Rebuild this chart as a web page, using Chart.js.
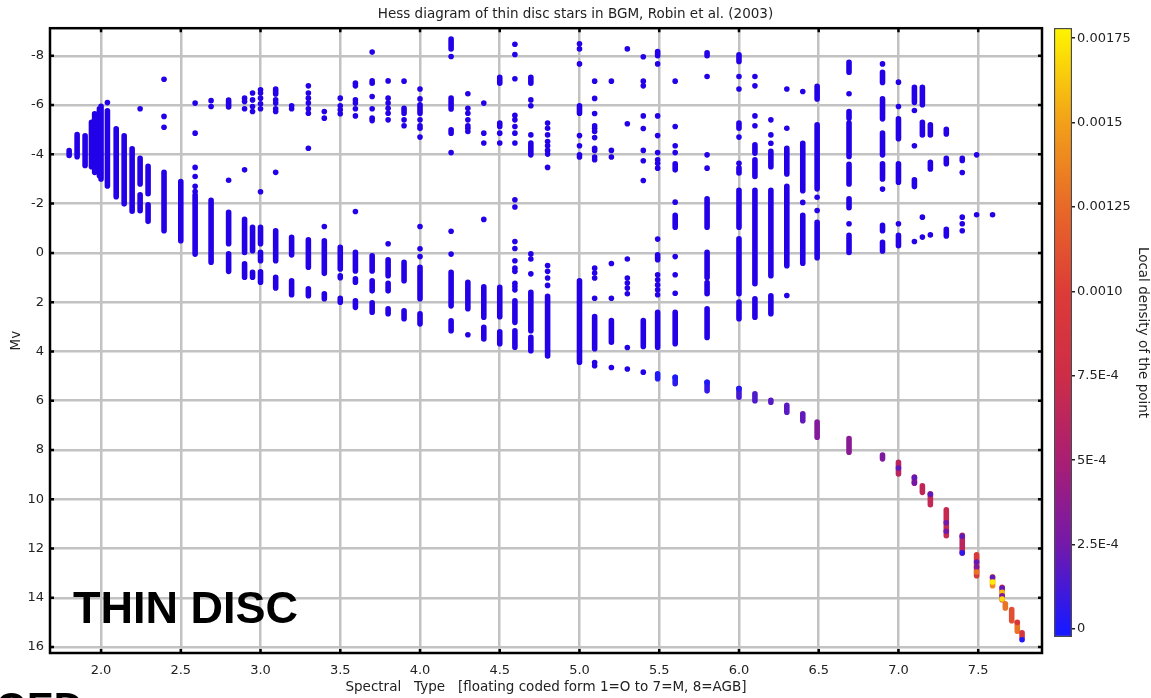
<!DOCTYPE html>
<html>
<head>
<meta charset="utf-8">
<script src="https://cdn.jsdelivr.net/npm/chart.js@4.4.1/dist/chart.umd.min.js"></script>
<style>
  html, body { margin: 0; padding: 0; background: #fff; overflow: hidden; }
  #wrap { position: relative; width: 1151px; height: 698px; }
  #hess { position: absolute; left: 0; top: 0; }
  #bar { position: absolute; left: 1044px; top: 0; }
</style>
</head>
<body>
<div id="wrap">
  <canvas id="hess" width="1151" height="698"></canvas>
  <canvas id="bar" width="107" height="698"></canvas>
</div>
<script>
// axis ticks
const xTicks = [2.0, 2.5, 3.0, 3.5, 4.0, 4.5, 5.0, 5.5, 6.0, 6.5, 7.0, 7.5];
const yTicks = [-8, -6, -4, -2, 0, 2, 4, 6, 8, 10, 12, 14, 16];
const densityTicks = [0, 0.00025, 0.0005, 0.00075, 0.001, 0.00125, 0.0015, 0.00175];
const densityLabels = ["0", "2.5E-4", "5E-4", "7.5E-4", "0.0010", "0.00125", "0.0015", "0.00175"];
const densityMin = -0.0000237;
const densityMax = 0.00178;

// dense vertical runs of stars: [spectral type, Mv top, Mv bottom] (density ~0, blue)
const blueStrips = [
  [1.80,-4.15,-3.95], [1.85,-4.8,-3.9], [1.90,-4.75,-3.55], [1.94,-5.3,-3.5],
  [1.96,-5.65,-3.27], [1.99,-5.85,-3.13], [2.00,-5.95,-3.0], [2.04,-5.77,-2.72],
  [2.095,-5.04,-2.28], [2.145,-4.75,-1.99], [2.195,-4.22,-1.69],
  [2.245,-3.84,-2.8], [2.245,-2.36,-1.71], [2.295,-3.51,-2.4], [2.295,-1.95,-1.28],
  [2.395,-3.27,-0.9], [2.5,-2.9,-0.49], [2.59,-2.35,0.05], [2.69,-2.13,0.38],
  [2.8,-6.2,-5.92], [2.8,-1.65,-0.37], [2.8,0.04,0.75],
  [2.9,-1.36,-0.02], [2.9,0.44,0.99], [2.95,-1.04,-0.09], [2.95,0.79,0.99],
  [3.0,-1.04,-0.37], [3.0,-0.02,0.32], [3.0,0.77,1.19],
  [3.095,-6.65,-6.45], [3.095,-0.9,0.32], [3.095,0.99,1.42],
  [3.195,-0.63,0.08], [3.195,1.13,1.7], [3.3,-0.53,0.58], [3.3,1.46,1.74],
  [3.4,-0.49,0.83], [3.4,1.66,1.86],
  [3.5,-0.23,0.65], [3.5,0.93,1.01], [3.5,1.84,2.0],
  [3.595,-0.02,0.73], [3.595,1.05,1.19], [3.595,1.94,2.21],
  [3.7,0.12,0.73], [3.7,1.13,1.54], [3.7,2.03,2.41],
  [3.8,0.28,0.93], [3.8,1.23,1.54], [3.8,2.27,2.47],
  [3.9,-5.87,-5.67], [3.9,0.38,1.13], [3.9,2.35,2.67],
  [4.0,-6.01,-5.67], [4.0,0.58,1.86], [4.0,2.47,2.88],
  [4.195,-8.68,-8.28], [4.195,-6.28,-5.84], [4.195,-5.0,-4.86], [4.195,0.79,2.15], [4.195,2.76,3.16],
  [4.3,1.19,2.27], [4.4,1.38,2.61], [4.4,3.02,3.49],
  [4.5,-7.13,-6.89], [4.5,-5.27,-5.13], [4.5,1.4,2.59], [4.5,3.2,3.69],
  [4.595,1.94,2.82], [4.595,3.16,3.83],
  [4.695,-7.13,-6.89], [4.695,-4.46,-3.98], [4.695,1.6,3.16], [4.695,3.43,3.97],
  [4.8,1.76,4.18], [5.0,-5.97,-5.67], [5.0,1.13,4.44],
  [5.095,2.58,3.89], [5.2,2.75,3.63], [5.4,2.75,3.8],
  [5.49,-8.17,-8.0], [5.49,0.08,0.28], [5.49,2.41,3.83],
  [5.6,-3.62,-3.37], [5.6,-1.53,-1.04], [5.6,2.41,3.69],
  [5.8,-8.12,-8.0], [5.8,-2.2,-1.04], [5.8,-0.02,1.0], [5.8,1.2,1.66], [5.8,2.27,3.43],
  [6.0,-8.04,-7.77], [6.0,-5.27,-5.06], [6.0,-3.45,-3.24], [6.0,-2.54,-1.04], [6.0,-0.57,1.66], [6.0,2.0,2.67],
  [6.1,-4.39,-4.05], [6.1,-3.78,-3.1], [6.1,-2.54,1.25], [6.1,1.86,2.61],
  [6.2,-4.12,-3.5], [6.2,-2.54,0.93], [6.2,1.74,2.47],
  [6.3,-4.25,-3.2], [6.3,-2.7,0.52],
  [6.4,-4.45,-2.52], [6.4,-1.53,0.42],
  [6.49,-6.76,-6.25], [6.49,-5.2,-2.6], [6.49,-1.24,0.2],
  [6.69,-7.74,-7.33], [6.69,-5.74,-5.47], [6.69,-5.27,-3.91], [6.69,-3.6,-2.8], [6.69,-2.2,-1.83], [6.69,-0.71,-0.02],
  [6.9,-7.33,-6.92], [6.9,-6.25,-5.44], [6.9,-4.86,-3.98], [6.9,-3.62,-3.0], [6.9,-1.12,-0.9], [6.9,-0.43,-0.08],
  [7.0,-5.44,-4.63], [7.0,-3.62,-2.87], [7.0,-0.71,-0.29],
  [7.1,-6.72,-6.11], [7.1,-2.97,-2.69],
  [7.15,-6.72,-6.01], [7.15,-5.3,-4.79],
  [7.2,-5.2,-4.79], [7.2,-3.68,-3.41],
  [7.3,-5.02,-4.83], [7.3,-3.84,-3.62], [7.3,-0.96,-0.69],
  [7.4,-3.84,-3.75]
];

// isolated stars: [spectral type, Mv]
const blueDots = [
  [2.04,-6.1], [2.245,-5.85], [2.395,-7.05], [2.395,-5.54], [2.395,-5.1],
  [2.59,-6.08], [2.59,-4.86], [2.59,-3.47], [2.59,-3.1], [2.59,-2.7], [2.59,-2.49],
  [2.69,-6.18], [2.69,-5.94], [2.8,-2.95],
  [2.9,-6.28], [2.9,-6.14], [2.9,-5.85], [2.9,-3.37],
  [2.95,-6.49], [2.95,-6.21], [2.95,-5.94], [2.95,-5.74],
  [3.0,-6.62], [3.0,-6.49], [3.0,-6.28], [3.0,-6.05], [3.0,-5.85], [3.0,-2.48],
  [3.095,-6.21], [3.095,-6.08], [3.095,-5.85], [3.095,-5.74], [3.095,-3.27],
  [3.195,-5.97], [3.195,-5.85],
  [3.3,-6.78], [3.3,-6.49], [3.3,-6.28], [3.3,-6.08], [3.3,-5.85], [3.3,-5.67], [3.3,-4.25],
  [3.4,-5.74], [3.4,-5.47], [3.4,-1.07],
  [3.5,-6.28], [3.5,-5.97], [3.5,-5.81], [3.5,-5.65],
  [3.595,-6.89], [3.595,-6.78], [3.595,-6.21], [3.595,-6.08], [3.595,-5.85], [3.595,-5.56], [3.595,-1.68],
  [3.7,-8.15], [3.7,-6.98], [3.7,-6.89], [3.7,-6.35], [3.7,-5.85], [3.7,-5.47], [3.7,-5.37],
  [3.8,-6.98], [3.8,-6.28], [3.8,-6.08], [3.8,-5.87], [3.8,-5.67], [3.8,-5.4], [3.8,-0.37],
  [3.9,-6.97], [3.9,-5.4], [3.9,-5.16],
  [4.0,-6.65], [4.0,-6.25], [4.0,-5.4], [4.0,-5.16], [4.0,-5.06], [4.0,-4.7], [4.0,-1.07], [4.0,-0.17], [4.0,0.15],
  [4.195,-7.97], [4.195,-4.07], [4.195,-0.88], [4.195,0.05],
  [4.3,-6.46], [4.3,-5.87], [4.3,-5.67], [4.3,-5.4], [4.3,-5.16], [4.3,-5.06], [4.3,-4.93], [4.3,3.32],
  [4.4,-6.08], [4.4,-4.86], [4.4,-4.46], [4.4,-1.36],
  [4.5,-4.86], [4.5,-4.46],
  [4.595,-8.47], [4.595,-8.05], [4.595,-7.07], [4.595,-5.58], [4.595,-5.4], [4.595,-5.13], [4.595,-4.86],
  [4.595,-4.46], [4.595,-2.16], [4.595,-1.86], [4.595,-0.46], [4.595,-0.18], [4.595,0.32], [4.595,0.62],
  [4.595,0.75], [4.595,1.23], [4.595,1.36], [4.595,1.5],
  [4.695,-6.21], [4.695,-5.97], [4.695,-4.79], [4.695,0.04], [4.695,0.25], [4.695,0.85],
  [4.8,-5.27], [4.8,-5.06], [4.8,-4.79], [4.8,-4.52], [4.8,-4.35], [4.8,-4.16], [4.8,-4.01], [4.8,-3.47],
  [4.8,0.51], [4.8,0.75], [4.8,1.02], [4.8,1.32],
  [5.0,-8.49], [5.0,-8.28], [5.0,-7.67], [5.0,-4.76], [5.0,-4.35], [5.0,-3.98], [5.0,-3.89],
  [5.095,-6.97], [5.095,-6.27], [5.095,-5.66], [5.095,-5.16], [5.095,-5.06], [5.095,-4.93], [5.095,-4.68],
  [5.095,-4.25], [5.095,-4.16], [5.095,-3.89], [5.095,-3.78], [5.095,0.62], [5.095,0.82], [5.095,1.02],
  [5.095,1.84], [5.095,4.45], [5.095,4.58],
  [5.2,-6.97], [5.2,-4.16], [5.2,-3.89], [5.2,0.43], [5.2,1.84], [5.2,4.65],
  [5.3,-8.28], [5.3,-5.24], [5.3,0.25], [5.3,1.02], [5.3,1.22], [5.3,1.43], [5.3,1.66], [5.3,3.84], [5.3,4.71],
  [5.4,-7.96], [5.4,-6.97], [5.4,-6.78], [5.4,-5.56], [5.4,-5.05], [5.4,-4.16], [5.4,-3.74], [5.4,-2.94], [5.4,4.84],
  [5.49,-7.67], [5.49,-5.56], [5.49,-4.76], [5.49,-4.07], [5.49,-3.78], [5.49,-3.64], [5.49,-3.44],
  [5.49,-0.56], [5.49,0.89], [5.49,1.09], [5.49,1.3], [5.49,1.5], [5.49,1.7],
  [5.6,-6.97], [5.6,-5.13], [5.6,-4.35], [5.6,-4.07], [5.6,-2.06], [5.6,0.15], [5.6,0.89], [5.6,1.64],
  [5.8,-7.16], [5.8,-3.98], [5.8,-3.44],
  [6.0,-7.16], [6.0,-6.65], [6.0,-4.7], [6.0,-3.64],
  [6.1,-7.16], [6.1,-6.78], [6.1,-5.56], [6.1,-5.16],
  [6.2,-5.4], [6.2,-4.79], [6.2,-4.45],
  [6.3,-6.65], [6.3,-5.06], [6.3,1.73],
  [6.4,-6.55], [6.4,-2.05], [6.49,-2.26], [6.49,-1.72],
  [6.69,-6.46], [6.69,-1.18], [6.9,-7.67], [6.9,-2.59],
  [7.0,-6.93], [7.0,-5.94], [7.0,-1.18],
  [7.1,-5.78], [7.1,-4.35], [7.1,-0.46], [7.15,-1.45], [7.15,-0.64], [7.2,-0.73],
  [7.4,-3.26], [7.4,-1.45], [7.4,-1.18], [7.4,-0.9],
  [7.49,-3.98], [7.49,-1.55], [7.59,-1.55]
];

// lower main sequence: [spectral type, Mv top, Mv bottom, local density]
const dwarfStrips = [
  [5.49,4.91,5.11,0.00002], [5.6,5.05,5.31,0.00005], [5.8,5.25,5.6,0.00008],
  [6.0,5.51,5.86,0.00013], [6.1,5.72,6.0,0.00015], [6.2,5.98,6.06,0.00017],
  [6.3,6.19,6.47,0.00018], [6.4,6.53,6.81,0.0002], [6.49,6.87,7.48,0.00032],
  [6.69,7.54,8.09,0.00035], [6.9,8.21,8.36,0.0003], [7.0,8.5,8.97,0.00062],
  [7.1,9.1,9.35,0.0005], [7.15,9.45,9.72,0.00065], [7.2,9.78,10.22,0.00068],
  [7.3,10.43,11.48,0.0007], [7.4,11.46,12.19,0.00062], [7.49,12.25,13.1,0.00095],
  [7.59,13.15,13.51,0.0014], [7.65,13.57,14.08,0.0009], [7.67,14.24,14.41,0.0013],
  [7.71,14.48,14.93,0.0011], [7.745,14.99,15.36,0.0013], [7.775,15.42,15.62,0.0009]
];

// single lower main sequence stars: [spectral type, Mv, local density]
const dwarfDots = [
  [5.6,5.05,0.00001], [5.8,5.25,0.00002], [6.0,5.51,0.00003], [7.0,8.73,0.0002],
  [7.1,9.12,0.0002], [7.1,9.33,0.00025], [7.2,9.8,0.0002],
  [7.3,10.95,0.00025], [7.3,11.3,0.00025], [7.4,11.5,0.0002], [7.4,12.17,0.00005],
  [7.49,12.55,0.0002], [7.49,12.75,0.0003], [7.49,12.95,0.0013],
  [7.59,13.17,0.0002], [7.59,13.36,0.00175],
  [7.65,13.6,0.0002], [7.65,13.78,0.0016], [7.65,13.92,0.0003], [7.65,14.05,0.0017],
  [7.745,15.0,0.0009], [7.775,15.7,0.00002]
];

// colour scale of the density bar
const colorStops = [0, 0.00025, 0.0005, 0.00075, 0.001, 0.00125, 0.0015, 0.00178];
const colorRGB = [[25,25,255],[115,25,170],[170,30,115],[205,45,70],[220,60,55],[232,105,40],[242,160,25],[255,245,0]];

const FONT = "'DejaVu Sans', sans-serif";
const BLUE = "rgb(34,0,232)";
const GRID = "rgb(194,194,194)";

function densityColor(d) {
  if (d <= colorStops[0]) return "rgb(" + colorRGB[0].join(",") + ")";
  for (let i = 1; i < colorStops.length; i++) {
    if (d <= colorStops[i]) {
      const t = (d - colorStops[i - 1]) / (colorStops[i] - colorStops[i - 1]);
      const a = colorRGB[i - 1], b = colorRGB[i];
      return "rgb(" + a.map((v, k) => Math.round(v + (b[k] - v) * t)).join(",") + ")";
    }
  }
  return "rgb(" + colorRGB[colorRGB.length - 1].join(",") + ")";
}

// each strip becomes two points followed by a gap
function stripPoints(list) {
  const pts = [];
  list.forEach((s) => {
    pts.push({ x: s[0], y: s[1], d: s[3] });
    pts.push({ x: s[0], y: s[2], d: s[3] });
    pts.push({ x: s[0], y: null });
  });
  return pts;
}

const dwarfPts = stripPoints(dwarfStrips);

const framePlugin = {
  id: "frame",
  afterDraw(chart) {
    const { ctx, chartArea: a, scales } = chart;
    ctx.save();
    ctx.strokeStyle = "#000";
    ctx.lineWidth = 2.5;
    ctx.strokeRect(a.left, a.top, a.right - a.left, a.bottom - a.top);
    ctx.beginPath();
    scales.x.ticks.forEach((t) => {
      const px = scales.x.getPixelForValue(t.value);
      ctx.moveTo(px, a.top); ctx.lineTo(px, a.top + 4);
      ctx.moveTo(px, a.bottom); ctx.lineTo(px, a.bottom - 4);
    });
    scales.y.ticks.forEach((t) => {
      const py = scales.y.getPixelForValue(t.value);
      ctx.moveTo(a.left, py); ctx.lineTo(a.left + 4, py);
      ctx.moveTo(a.right, py); ctx.lineTo(a.right - 4, py);
    });
    ctx.stroke();
    ctx.fillStyle = "#000";
    ctx.textBaseline = "alphabetic";
    ctx.font = "bold 45px 'Liberation Sans', Arial, sans-serif";
    ctx.fillText("THIN DISC", a.left + 23, a.bottom - 30);
    ctx.font = "bold 40px 'Liberation Sans', Arial, sans-serif";
    ctx.fillText("OED", -4, 721);
    ctx.restore();
  },
};

new Chart(document.getElementById("hess"), {
  type: "scatter",
  data: {
    datasets: [
      {
        type: "scatter",
        data: dwarfDots.map((p) => ({ x: p[0], y: p[1] })),
        pointRadius: 2.8,
        pointBorderWidth: 0,
        pointBackgroundColor: dwarfDots.map((p) => densityColor(p[2])),
      },
      {
        type: "line",
        data: dwarfPts,
        borderColor: BLUE,
        borderWidth: 5.6,
        borderCapStyle: "round",
        pointRadius: 0,
        spanGaps: false,
        tension: 0,
        segment: { borderColor: (c) => densityColor(dwarfPts[c.p0DataIndex].d) },
      },
      {
        type: "scatter",
        data: blueDots.map((p) => ({ x: p[0], y: p[1] })),
        pointRadius: 2.8,
        pointBorderWidth: 0,
        pointBackgroundColor: BLUE,
      },
      {
        type: "line",
        data: stripPoints(blueStrips),
        borderColor: BLUE,
        borderWidth: 5.6,
        borderCapStyle: "round",
        pointRadius: 0,
        spanGaps: false,
        tension: 0,
      },
    ],
  },
  options: {
    responsive: false,
    animation: false,
    events: [],
    plugins: {
      legend: { display: false },
      tooltip: { enabled: false },
      title: {
        display: true,
        text: "Hess diagram of thin disc stars in BGM, Robin et al. (2003)",
        font: { family: FONT, size: 13.5, weight: "normal" },
        color: "#222",
        padding: { top: 6, bottom: 6 },
      },
    },
    scales: {
      x: {
        type: "linear",
        min: 1.68,
        max: 7.9,
        afterBuildTicks: (s) => { s.ticks = xTicks.map((v) => ({ value: v })); },
        afterFit: (s) => { s.height = 45; },
        grid: { color: GRID, lineWidth: 2.5, drawTicks: false },
        border: { display: false },
        ticks: {
          padding: 10,
          color: "#222",
          font: { family: FONT, size: 13 },
          callback: (v) => Number(v).toFixed(1),
        },
        title: {
          display: true,
          text: "Spectral   Type   [floating coded form 1=O to 7=M, 8=AGB]",
          color: "#222",
          font: { family: FONT, size: 13.5 },
          padding: { top: 0, bottom: 2 },
        },
      },
      y: {
        type: "linear",
        reverse: true,
        min: -9.12,
        max: 16.24,
        afterBuildTicks: (s) => { s.ticks = yTicks.map((v) => ({ value: v })); },
        afterFit: (s) => { s.width = 50; },
        grid: { color: GRID, lineWidth: 2.5, drawTicks: false },
        border: { display: false },
        ticks: {
          padding: 6,
          color: "#222",
          font: { family: FONT, size: 13 },
          callback: (v) => String(v),
        },
        title: {
          display: true,
          text: "Mv",
          color: "#222",
          font: { family: FONT, size: 13.5 },
          padding: { top: 8, bottom: 0 },
        },
      },
      // empty right band that holds the space of the density bar
      y2: {
        type: "linear",
        position: "right",
        afterFit: (s) => { s.width = 109; },
        ticks: { display: false },
        grid: { display: false },
        border: { display: false },
      },
    },
  },
  plugins: [framePlugin],
});

function barGradient(chart) {
  const { chartArea, scales } = chart;
  if (!chartArea) return "rgb(25,25,255)";
  const y = scales.y;
  const g = chart.ctx.createLinearGradient(0, chartArea.bottom, 0, chartArea.top);
  colorStops.forEach((v, i) => {
    const off = (chartArea.bottom - y.getPixelForValue(v)) / (chartArea.bottom - chartArea.top);
    g.addColorStop(Math.min(1, Math.max(0, off)), "rgb(" + colorRGB[i].join(",") + ")");
  });
  return g;
}

new Chart(document.getElementById("bar"), {
  type: "bar",
  data: {
    labels: [""],
    datasets: [
      {
        data: [[densityMin, densityMax]],
        backgroundColor: (c) => barGradient(c.chart),
        borderColor: "#4a4a4a",
        borderWidth: 1.5,
        borderSkipped: false,
        categoryPercentage: 1,
        barPercentage: 1,
      },
    ],
  },
  options: {
    responsive: false,
    animation: false,
    events: [],
    layout: { padding: { left: 10, top: 28, bottom: 61, right: 0 } },
    plugins: { legend: { display: false }, tooltip: { enabled: false } },
    scales: {
      x: { display: false },
      y: {
        position: "right",
        min: densityMin,
        max: densityMax,
        afterBuildTicks: (s) => { s.ticks = densityTicks.map((v) => ({ value: v })); },
        afterFit: (s) => { s.width = 79; },
        grid: { display: true, drawOnChartArea: false, drawTicks: true, tickLength: 3, tickColor: "#222", lineWidth: 1.5 },
        border: { display: false },
        ticks: {
          padding: 2,
          color: "#222",
          font: { family: FONT, size: 13 },
          callback: (v, i) => densityLabels[i],
        },
        title: {
          display: true,
          text: "Local density of the point",
          color: "#222",
          font: { family: FONT, size: 13.5 },
          padding: 0,
        },
      },
    },
  },
});
</script>
</body>
</html>
